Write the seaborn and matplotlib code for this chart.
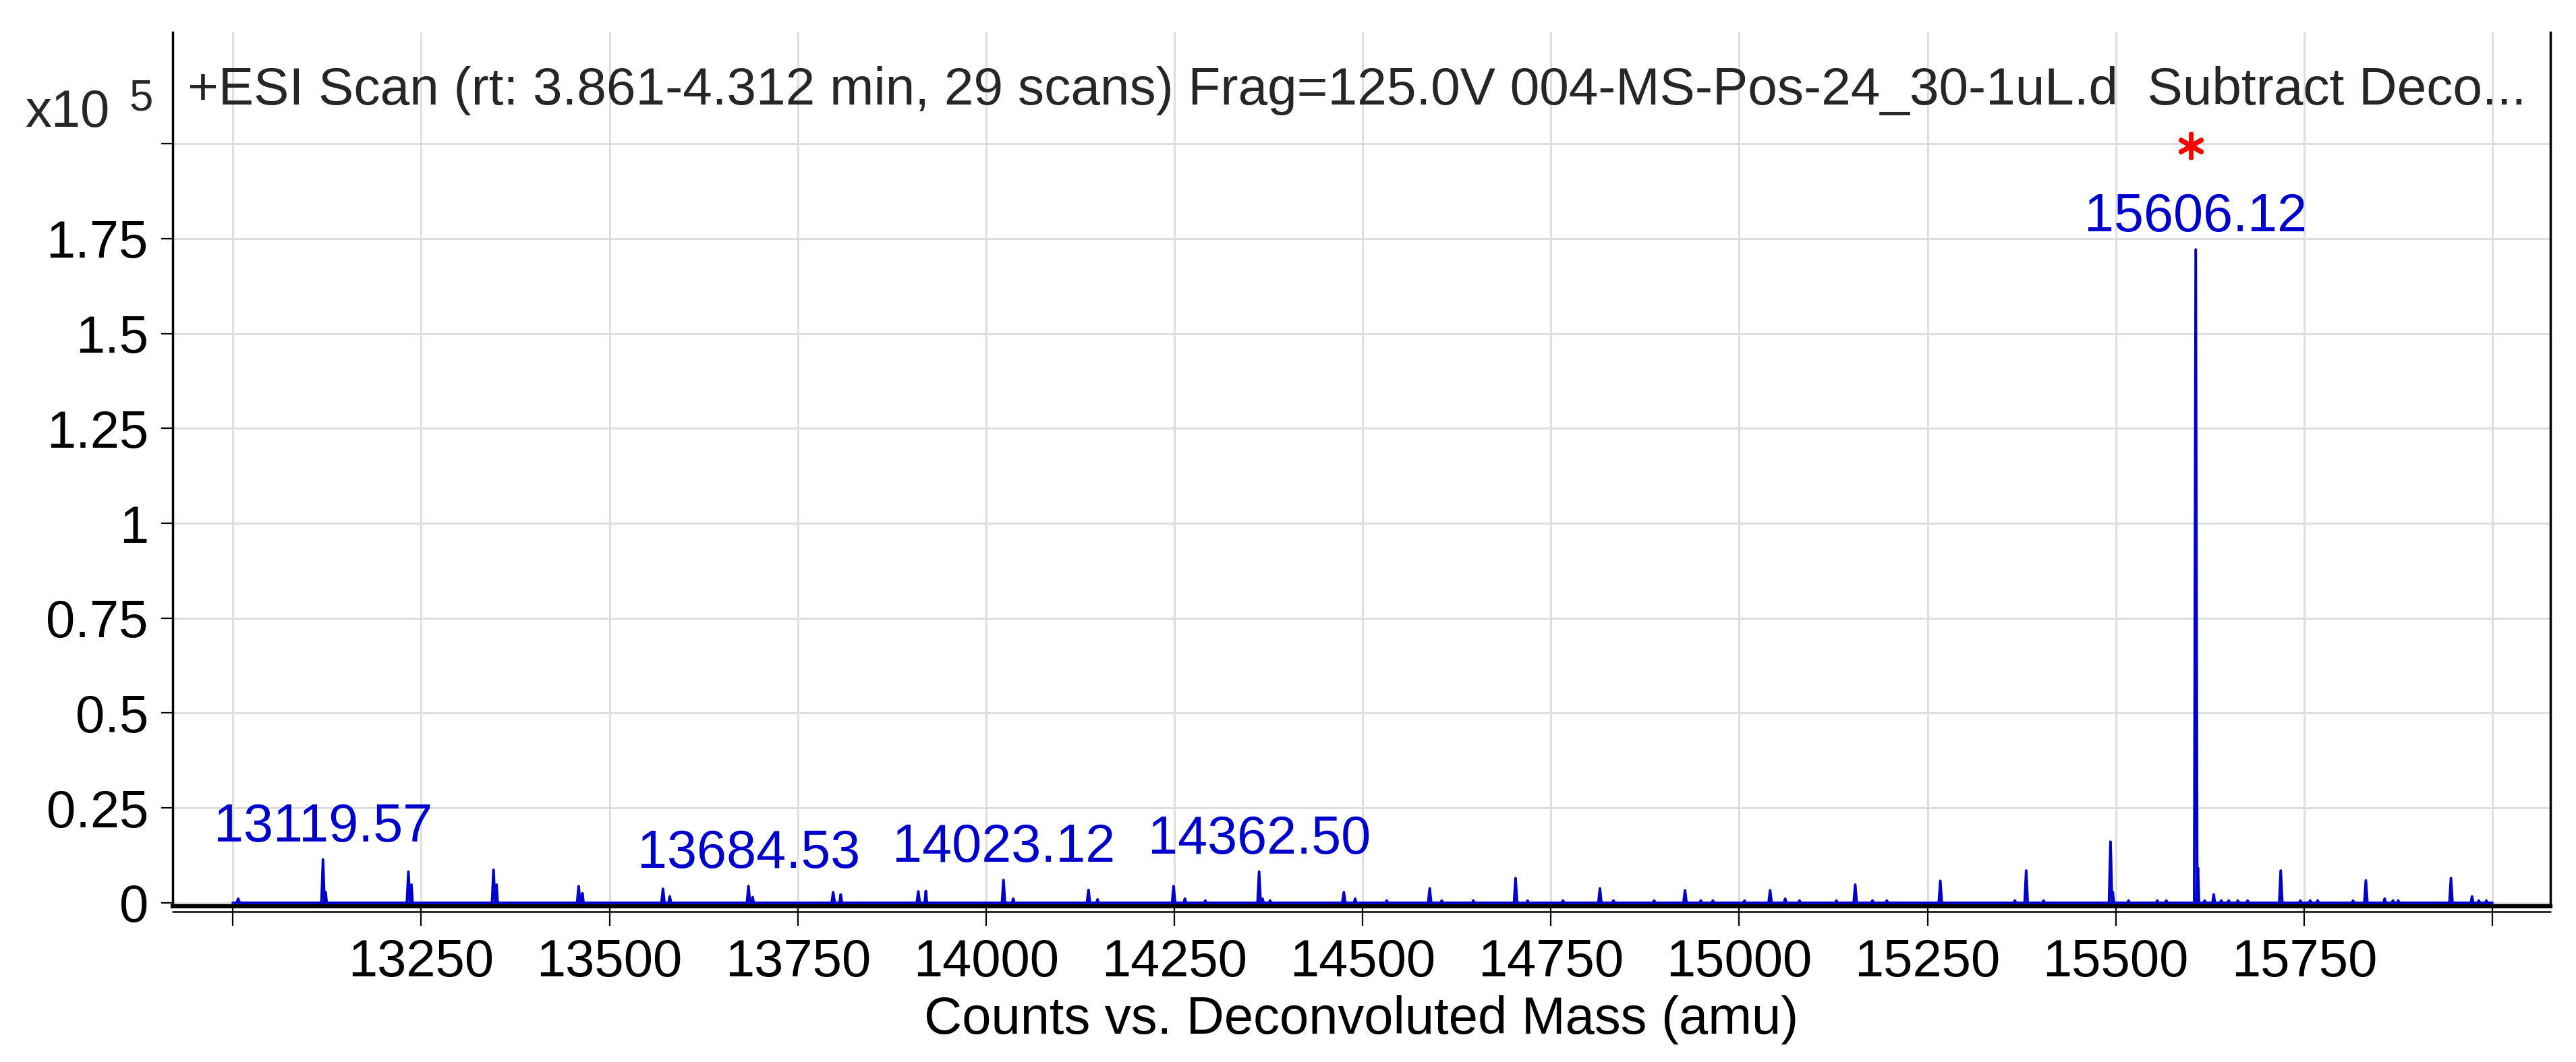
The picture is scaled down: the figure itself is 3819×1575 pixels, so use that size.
import matplotlib
matplotlib.use('Agg')
import matplotlib.pyplot as plt
import matplotlib.transforms as mtransforms
import pandas as pd
import seaborn as sns

# deconvoluted masses (amu) and heights (x10^5 counts)
peak_mass = [13007, 13119.57, 13233, 13346, 13459, 13571, 13684.53, 13797, 13910,
             14023.12, 14136, 14249, 14362.50, 14475, 14589, 14703, 14815, 14928,
             15041, 15154, 15267, 15381, 15493, 15606.12, 15719, 15832, 15945]
peak_height = [0.011, 0.114, 0.082, 0.087, 0.044, 0.037, 0.044, 0.028, 0.030,
               0.060, 0.034, 0.044, 0.082, 0.028, 0.038, 0.065, 0.038, 0.033,
               0.033, 0.048, 0.058, 0.085, 0.161, 1.721, 0.085, 0.059, 0.065]

# shoulders / small satellite peaks
minor_mass = [13123, 13237, 13350, 13464, 13580, 13690, 13807, 13920, 14036, 14148,
              14264, 14291, 14367, 14377, 14490, 14532, 14605, 14647, 14719, 14766,
              14833, 14887, 14949, 14965, 15007, 15061, 15080, 15129, 15177, 15196,
              15366, 15404, 15496, 15517, 15555, 15567, 15609, 15618, 15630, 15640,
              15650, 15662, 15675, 15745, 15758, 15768, 15815, 15857, 15868, 15875,
              15973, 15982, 15992]
minor_height = [0.028, 0.048, 0.048, 0.025, 0.017, 0.015, 0.022, 0.031, 0.011, 0.009,
                0.011, 0.006, 0.011, 0.006, 0.011, 0.006, 0.006, 0.006, 0.006, 0.006,
                0.006, 0.006, 0.006, 0.006, 0.006, 0.011, 0.006, 0.006, 0.006, 0.006,
                0.006, 0.006, 0.028, 0.006, 0.006, 0.006, 0.092, 0.006, 0.022, 0.006,
                0.006, 0.006, 0.006, 0.006, 0.006, 0.006, 0.006, 0.011, 0.006, 0.006,
                0.017, 0.006, 0.006]

label_mass = [13119.57, 13684.53, 14023.12, 14362.50, 15606.12]
star_mass = 15606.12
trace_range = [13000, 16000]

x_ticks = [13000, 13250, 13500, 13750, 14000, 14250, 14500, 14750, 15000,
           15250, 15500, 15750, 16000]
x_tick_labels = [''] + [str(t) for t in x_ticks[1:-1]] + ['']
y_ticks = [0, 0.25, 0.5, 0.75, 1, 1.25, 1.5, 1.75, 2.0]
y_tick_labels = ['0', '0.25', '0.5', '0.75', '1', '1.25', '1.5', '1.75', '']

title = ('+ESI Scan (rt: 3.861-4.312 min, 29 scans) Frag=125.0V '
         '004-MS-Pos-24_30-1uL.d  Subtract Deco...')
x_label = 'Counts vs. Deconvoluted Mass (amu)'

blue = '#0000CC'

sns.set_style('white')
plt.rcParams['font.family'] = ['Liberation Sans', 'DejaVu Sans']

# one polyline per peak, plus the flat baseline of the trace
rows = [{'peak': -1, 'mass': trace_range[0], 'height': 0.0},
        {'peak': -1, 'mass': trace_range[1], 'height': 0.0}]
all_peaks = [(m, h, 2.0) for m, h in zip(peak_mass, peak_height)] + \
            [(m, h, 1.5) for m, h in zip(minor_mass, minor_height)]
for i, (m, h, w) in enumerate(all_peaks):
    rows.append({'peak': i, 'mass': m - w, 'height': 0.0})
    rows.append({'peak': i, 'mass': m, 'height': h})
    rows.append({'peak': i, 'mass': m + w, 'height': 0.0})
df = pd.DataFrame(rows)

W, H = 3819, 1575
fig = plt.figure(figsize=(W / 100, H / 100), dpi=100)
ax_left, ax_right, ax_top, ax_bottom = 256, 3781, 48, 1344
ax = fig.add_axes([ax_left / W, 1 - ax_bottom / H,
                   (ax_right - ax_left) / W, (ax_bottom - ax_top) / H])

sns.lineplot(data=df, x='mass', y='height', units='peak', estimator=None,
             sort=False, color=blue, linewidth=2.8, ax=ax, legend=False, zorder=3)

ax.set_xlim(12920, 16077)
ax.set_ylim(-0.0089, 2.2931)
ax.set_xticks(x_ticks)
ax.set_xticklabels(x_tick_labels)
ax.set_yticks(y_ticks)
ax.set_yticklabels(y_tick_labels)

ax.grid(True, color='#dcdcdc', linewidth=2)
ax.set_axisbelow(True)

ax.spines['top'].set_visible(False)
for side in ['left', 'right']:
    ax.spines[side].set_color('black')
    ax.spines[side].set_linewidth(2.5)
ax.spines['bottom'].set_color('black')
ax.spines['bottom'].set_linewidth(4.5)
# thin second rule under the x axis
ax.plot([0, 1], [-0.0065, -0.0065], transform=ax.transAxes, color='black',
        linewidth=1.8, clip_on=False)

ax.tick_params(axis='x', direction='out', length=21, width=1.6, pad=13,
               labelsize=56, colors='black', bottom=True)
ax.tick_params(axis='y', direction='out', length=12, width=1.6, pad=14,
               labelsize=56, colors='black', left=True)

ax.set_xlabel(x_label, fontsize=56, color='black')
ax.set_ylabel('')
ax.xaxis.label.set_va('baseline')
ax.xaxis.set_label_coords(0.5, -(1533 - ax_bottom) / (ax_bottom - ax_top))

lookup = dict(zip(peak_mass, peak_height))
for m in label_mass:
    ax.annotate(f'{m:.2f}', xy=(m, lookup[m]), xytext=(0, 19.5),
                textcoords='offset points', ha='center', va='baseline',
                color=blue, fontsize=57, zorder=4)

star_offset = mtransforms.ScaledTranslation(-0.07, 1.54, fig.dpi_scale_trans)
ax.scatter([star_mass], [lookup[star_mass]], marker=(6, 2, 0), s=625,
           color='red', linewidths=5, transform=ax.transData + star_offset,
           clip_on=False, zorder=5)

title_text = fig.text(278 / W, 1 - 155 / H, title, ha='left', va='baseline',
                      fontsize=60)
# shrink the title so it spans the same width as in the instrument export
fig.canvas.draw()
span = title_text.get_window_extent().width
title_text.set_fontsize(60 * 3472 / span)

fig.text(37 / W, 1 - 188 / H, 'x10', ha='left', va='baseline', fontsize=56)
fig.text(192 / W, 1 - 163 / H, '5', ha='left', va='baseline', fontsize=46)

fig.savefig('out.png', dpi=100, facecolor='white')
